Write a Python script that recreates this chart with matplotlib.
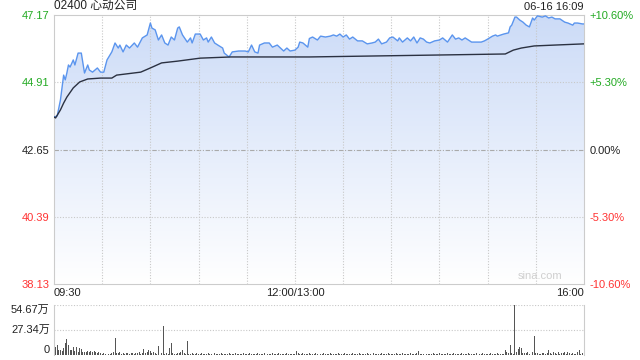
import numpy as np
import matplotlib
matplotlib.use("Agg")
import matplotlib.pyplot as plt
from matplotlib.patches import Polygon

plt.rcParams['font.family'] = ['Liberation Sans', 'Noto Sans CJK SC', 'DejaVu Sans']
plt.rcParams['axes.unicode_minus'] = False

title = "02400 心动公司"
stamp = "06-16 16:09"
prev_close = 42.65
price_ticks = [38.13, 40.39, 42.65, 44.91, 47.17]
pct_labels = ["-10.60%", "-5.30%", "0.00%", "+5.30%", "+10.60%"]
tick_colors = ["#ff3333", "#ff3333", "#222222", "#22aa22", "#22aa22"]
time_labels = ["09:30", "12:00/13:00", "16:00"]

# minute index (0..330, lunch break removed) and price
px_min = [0, 2, 4, 6, 7, 8, 9, 10, 12, 13, 15, 17, 19, 21, 22, 24, 27, 29, 31, 33,
          36, 38, 40, 41, 43, 45, 47, 50, 52, 55, 58, 60, 61, 63, 65, 67, 69, 71, 73, 75,
          77, 78, 80, 83, 85, 86, 88, 91, 93, 95, 96, 98, 100, 102, 105, 106, 109, 111, 115, 119,
          121, 123, 125, 127, 128, 131, 134, 136, 139, 141, 143, 145, 147, 150, 152, 153, 155, 158, 159, 161,
          164, 166, 169, 172, 174, 176, 178, 180, 182, 184, 186, 189, 192, 195, 198, 200, 202, 204, 207, 209,
          211, 214, 215, 217, 220, 222, 224, 226, 228, 230, 232, 234, 237, 240, 242, 245, 248, 250, 252, 254,
          256, 258, 260, 263, 266, 268, 270, 273, 275, 276, 280, 283, 284, 285, 287, 288, 290, 292, 294, 296,
          298, 299, 301, 304, 306, 308, 310, 312, 315, 318, 320, 323, 324, 326, 329, 330]
px_val = [43.74, 43.78, 44.31, 45.15, 44.99, 45.22, 45.49, 45.42, 45.66, 45.49, 45.89, 45.89, 45.22, 45.49, 45.32, 45.25, 45.39, 45.25, 45.25, 45.66,
          45.93, 46.23, 46.06, 46.16, 45.93, 46.16, 46.06, 46.23, 46.09, 46.40, 46.50, 46.90, 46.73, 46.67, 46.33, 46.50, 46.23, 46.16, 46.43, 46.33,
          46.73, 46.77, 46.50, 46.26, 46.40, 46.23, 46.53, 46.53, 46.33, 46.40, 46.26, 46.43, 46.23, 46.16, 46.06, 45.89, 45.76, 45.93, 45.96, 45.96,
          45.93, 46.16, 45.93, 45.89, 46.16, 46.23, 46.23, 46.09, 46.16, 46.06, 45.96, 46.06, 45.96, 45.99, 46.09, 46.26, 46.23, 46.09, 46.38, 46.43,
          46.33, 46.46, 46.43, 46.46, 46.50, 46.46, 46.53, 46.43, 46.50, 46.36, 46.43, 46.30, 46.30, 46.20, 46.23, 46.26, 46.36, 46.20, 46.26, 46.40,
          46.43, 46.30, 46.40, 46.26, 46.40, 46.30, 46.43, 46.23, 46.40, 46.36, 46.26, 46.23, 46.30, 46.33, 46.40, 46.26, 46.50, 46.36, 46.40, 46.33,
          46.40, 46.33, 46.26, 46.26, 46.26, 46.30, 46.36, 46.46, 46.50, 46.46, 46.53, 46.57, 46.77, 46.83, 47.10, 47.10, 47.00, 46.93, 46.83, 46.77,
          47.07, 47.00, 47.14, 47.10, 47.14, 47.07, 47.10, 47.04, 47.04, 46.93, 46.90, 46.83, 46.90, 46.90, 46.87, 46.87]

avg_min = [0, 1, 4, 6, 8, 12, 16, 21, 29, 36, 39, 54, 60, 67, 77, 91, 110, 159, 245, 281, 286, 291, 299, 312, 330]
avg_val = [43.74, 43.71, 43.98, 44.21, 44.41, 44.72, 44.92, 45.02, 45.05, 45.05, 45.15, 45.25, 45.39, 45.56, 45.62,
           45.72, 45.76, 45.76, 45.83, 45.86, 45.99, 46.06, 46.13, 46.16, 46.20]

# volume per minute, unit 万
volume = [10, 9, 11, 5, 6, 4, 8, 13, 17, 11, 6, 5, 9, 4, 9, 3, 8, 7, 3, 3,
          3, 4, 3, 4, 3, 4, 3, 2, 3, 2, 1, 2, 1, 2, 1, 1, 2, 3, 19, 2,
          2, 3, 1, 2, 1, 2, 2, 1, 2, 2, 1, 2, 2, 3, 1, 2, 7, 2, 3, 6,
          4, 2, 3, 2, 1, 10, 1, 2, 32, 1, 2, 1, 8, 13, 2, 1, 1, 2, 2, 3,
          5, 2, 1, 15, 1, 1, 2, 1, 1, 2, 1, 1, 2, 1, 1, 1, 2, 1, 1, 1,
          2, 1, 1, 1, 2, 1, 1, 1, 1, 2, 1, 1, 1, 2, 1, 1, 1, 1, 2, 1,
          1, 1, 2, 1, 1, 1, 1, 2, 1, 1, 1, 2, 1, 1, 1, 1, 2, 1, 1, 1,
          2, 1, 1, 1, 1, 2, 1, 1, 1, 1, 1, 4, 2, 1, 1, 2, 1, 1, 1, 2,
          1, 1, 1, 2, 1, 1, 1, 1, 2, 1, 1, 1, 2, 1, 1, 1, 1, 2, 1, 1,
          1, 2, 1, 1, 1, 1, 2, 1, 1, 1, 2, 1, 1, 1, 1, 2, 1, 1, 1, 2,
          1, 1, 1, 1, 2, 1, 1, 1, 2, 1, 1, 1, 1, 2, 1, 1, 1, 2, 1, 1,
          1, 1, 2, 1, 1, 1, 2, 4, 1, 1, 1, 2, 1, 1, 1, 1, 2, 1, 1, 1,
          2, 1, 1, 1, 1, 2, 1, 1, 1, 2, 1, 1, 1, 1, 2, 1, 1, 1, 2, 1,
          1, 1, 1, 2, 1, 1, 1, 2, 1, 1, 1, 1, 2, 1, 1, 1, 2, 1, 1, 1,
          1, 6, 3, 2, 11, 2, 1, 54.5, 3, 7, 9, 8, 2, 2, 2, 3, 1, 19, 3, 21,
          2, 2, 1, 1, 2, 2, 1, 2, 6, 2, 1, 3, 2, 1, 3, 1, 2, 2, 3, 1,
          3, 2, 1, 2, 1, 1, 3, 5, 1, 2, 4]
vol_ticks = [0, 27.34, 54.67]
vol_labels = ["0", "27.34万", "54.67万"]

fig = plt.figure(figsize=(6.4, 3.6), dpi=100)
ax = fig.add_axes([54/640, 1-284/360, 530/640, 269/360])
ymin, ymax = price_ticks[0], price_ticks[-1]
ax.set_xlim(0, 330)
ax.set_ylim(ymin, ymax)

# gradient fill under price line
grad = np.linspace(0, 1, 256).reshape(-1, 1)
top = np.array([0.80, 0.86, 0.97])
bot = np.array([1.0, 1.0, 1.0])
img = top * grad + bot * (1 - grad)
im = ax.imshow(img[:, None, :].repeat(2, axis=1), extent=[0, 330, ymin, ymax],
               origin="lower", aspect="auto", zorder=1)
poly = Polygon(list(zip(px_min, px_val)) + [(330, ymin), (0, ymin)], closed=True,
               facecolor="none", edgecolor="none")
ax.add_patch(poly)
im.set_clip_path(poly)

ax.plot(px_min, px_val, color="#5b95ee", lw=1.0, zorder=3)
ax.plot(avg_min, avg_val, color="#2b3141", lw=1.0, zorder=3)

for v in [40.39, 44.91]:
    ax.axhline(v, color="#c8c8c8", lw=0.8, ls=(0, (1, 1.5)), zorder=2)
ax.axhline(prev_close, color="#aaaaaa", lw=0.8, ls=(0, (4, 1.5, 1, 1.5)), zorder=2)
for m in range(30, 330, 30):
    ax.axvline(m, color="#c8c8c8", lw=0.8, ls=(0, (1, 1.5)), zorder=2)

for s in ax.spines.values():
    s.set_color("#cccccc")
ax.set_xticks([])
ax.set_yticks(price_ticks)
ax.set_yticklabels([f"{v:.2f}" for v in price_ticks], fontsize=8)
for lab, c in zip(ax.get_yticklabels(), tick_colors):
    lab.set_color(c)
ax.tick_params(axis="y", length=0, pad=3)

ax2 = ax.twinx()
ax2.set_ylim(ymin, ymax)
ax2.set_yticks(price_ticks)
ax2.set_yticklabels(pct_labels, fontsize=8)
for lab, c in zip(ax2.get_yticklabels(), tick_colors):
    lab.set_color(c)
ax2.tick_params(axis="y", length=0, pad=4)
for s in ax2.spines.values():
    s.set_visible(False)

ax.text(0, 1.012, title, transform=ax.transAxes, fontsize=8.5, color="#222222",
        ha="left", va="bottom")
ax.text(1, 1.012, stamp, transform=ax.transAxes, fontsize=8, color="#222222",
        ha="right", va="bottom")
ax.text(0.96, 0.012, "sina.com", transform=ax.transAxes, fontsize=8, color="#cfcfcf",
        ha="right", va="bottom")
for xpos, lab, ha in zip([0, 150, 330], time_labels, ["left", "center", "right"]):
    ax.text(xpos, -0.015, lab, transform=ax.get_xaxis_transform(), fontsize=8,
            color="#222222", ha=ha, va="top")

# volume panel
axv = fig.add_axes([54/640, 1-355/360, 530/640, 50/360])
axv.bar(np.arange(len(volume)), volume, width=0.6, color="#555555", zorder=3)
axv.set_xlim(0, 330)
axv.set_ylim(0, 54.67)
for v in vol_ticks[1:]:
    axv.axhline(v, color="#c8c8c8", lw=0.8, ls=(0, (1, 1.5)), zorder=1)
axv.set_xticks([])
axv.set_yticks(vol_ticks)
axv.set_yticklabels(vol_labels, fontsize=8, color="#222222")
for lab, va in zip(axv.get_yticklabels(), ["bottom", "center", "top"]):
    lab.set_verticalalignment(va)
axv.tick_params(axis="y", length=0, pad=3)
axv.spines["top"].set_visible(False)
axv.spines["bottom"].set_visible(False)
axv.spines["left"].set_color("#cccccc")
axv.spines["right"].set_color("#cccccc")

fig.savefig("out.png", dpi=100)
